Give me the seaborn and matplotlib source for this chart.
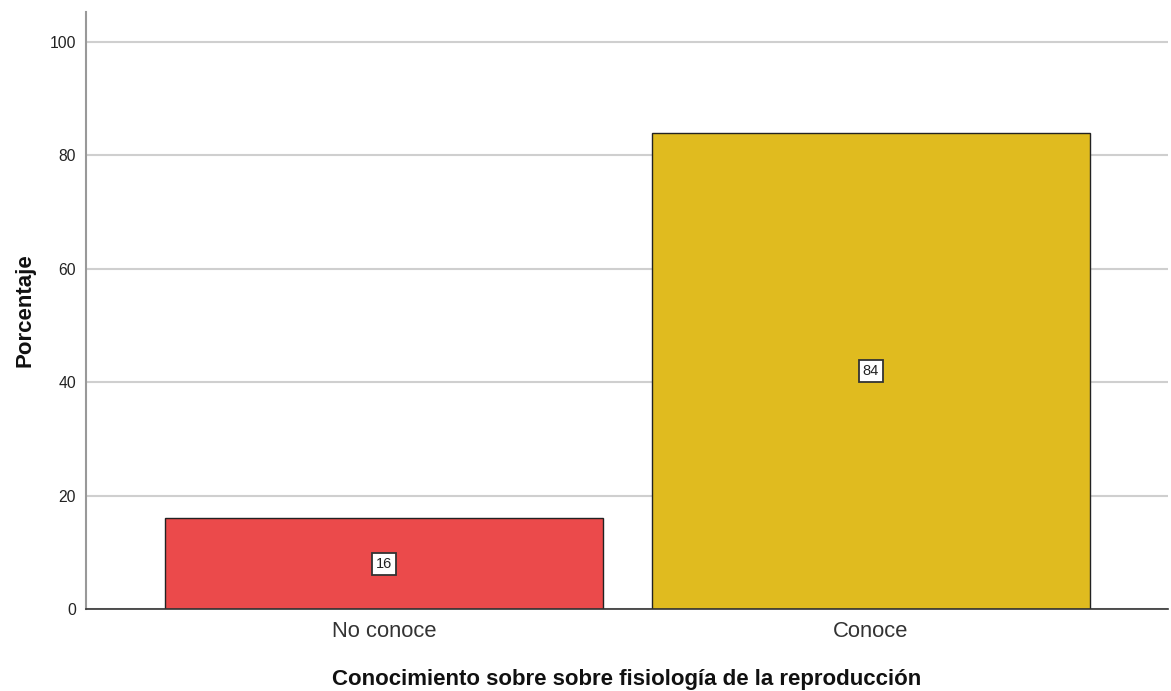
import matplotlib
matplotlib.use("Agg")
import matplotlib.pyplot as plt
import seaborn as sns
import pandas as pd

categories = ["No conoce", "Conoce"]
values = [16, 84]
labels = ["16", "84"]
colors = ["#EB4A4B", "#E0BB1F"]

sns.set_style("white")
plt.rcParams['font.family'] = ['Liberation Sans', 'DejaVu Sans']

df = pd.DataFrame({"cat": categories, "val": values})

fig = plt.figure(figsize=(11.71, 6.91), dpi=100)
ax = fig.add_axes([0.0734, 0.1187, 0.9240, 0.8639])

ax.set_axisbelow(True)
ax.yaxis.grid(True, color="#CFCFCF", linewidth=1.5)
sns.barplot(data=df, x="cat", y="val", hue="cat", palette=colors, width=0.9,
            edgecolor="#222222", linewidth=1.0, legend=False, ax=ax, saturation=1)

ax.set_xlim(-0.612, 1.61)
ax.set_ylim(0, 105.3)
ax.set_yticks([0, 20, 40, 60, 80, 100])
ax.tick_params(axis="y", labelsize=11.3, length=0, pad=7)
ax.tick_params(axis="x", labelsize=15.8, length=0, pad=9)
for lab in ax.get_yticklabels():
    lab.set_color("#222222")
for lab in ax.get_xticklabels():
    lab.set_color("#333333")

for i, (v, t) in enumerate(zip(values, labels)):
    ax.text(i, v / 2, t, ha="center", va="center", fontsize=10.5, color="#222222",
            bbox=dict(boxstyle="square,pad=0.28", facecolor="white", edgecolor="#333333", linewidth=1.3))

for s in ["top", "right"]:
    ax.spines[s].set_visible(False)
ax.spines["left"].set_color("#999999")
ax.spines["left"].set_linewidth(1.5)
ax.spines["bottom"].set_color("#333333")
ax.spines["bottom"].set_linewidth(1.2)

ax.set_xlabel("Conocimiento sobre sobre fisiología de la reproducción", fontsize=16,
              fontweight="bold", labelpad=19, color="#111111")
ax.set_ylabel("Porcentaje", fontsize=16, fontweight="bold", labelpad=10, color="#111111")

fig.savefig("out.png", dpi=100)
